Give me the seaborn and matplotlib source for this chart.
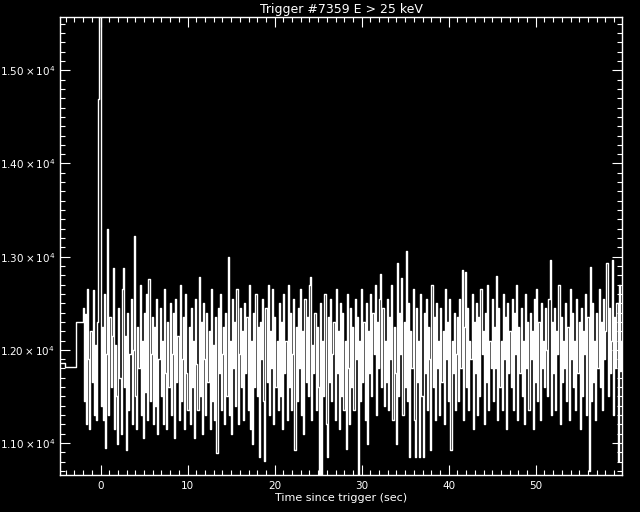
import numpy as np
import pandas as pd
import seaborn as sns
import matplotlib
matplotlib.use('Agg')
import matplotlib.pyplot as plt
from matplotlib.ticker import MultipleLocator, FuncFormatter

# pre-trigger coarse bins (left edges, sec) and rates
pre_t = [-4.55, -4.11, -2.76]
pre_rate = [11861, 11812, 12295]

# 0.128 s bins starting at -2.048 s
t0 = -2.048
dt = 0.128
t_end = 59.85
rate = [
    12450, 11450, 12380, 11200, 12650, 11900, 11150, 12200, 11650, 12640, 11300, 12050, 11250, 12300, 14690, 15900,
    11400, 12250, 11250, 12600, 10950, 11950, 13295, 11300, 12350, 11600, 12150, 12878, 11150, 12050, 11500, 10990,
    12450, 11700, 11100, 12650, 12878, 11600, 12150, 10930, 12400, 11350, 11950, 12550, 11200, 12000, 13220, 11500,
    11150, 12250, 11800, 12700, 11300, 12100, 11050, 12400, 11550, 12600, 11250, 12760, 11450, 11950, 12350, 11200,
    12250, 11400, 12550, 11100, 11900, 12450, 11500, 12100, 11200, 12650, 11750, 11150, 12300, 11600, 12500, 11300,
    11950, 12400, 11050, 12550, 11650, 12150, 11250, 12700, 11450, 11900, 12350, 11150, 12600, 11750, 11350, 12250,
    11200, 12450, 11600, 12100, 11050, 12550, 11850, 11350, 12780, 11500, 12300, 11100, 12500, 11900, 11300, 12400,
    11650, 12200, 11150, 12650, 11450, 12050, 11250, 12350, 10893, 12450, 11750, 12600, 11350, 11950, 12250, 11200,
    12400, 11500, 12996, 11300, 12100, 11100, 12550, 11800, 12300, 11400, 12650, 11200, 11950, 12450, 11600, 12200,
    11250, 12500, 11750, 12350, 11350, 12700, 11150, 12100, 10990, 12400, 11600, 12600, 11500, 12250, 10850, 12300,
    11900, 12550, 11450, 10810, 12450, 11650, 12700, 11300, 12200, 11800, 12650, 11200, 12350, 11600, 12100, 11350,
    12500, 11500, 12300, 11150, 12600, 11750, 12100, 11250, 12700, 11600, 12400, 11350, 11950, 12550, 10930, 12250,
    11450, 12450, 11800, 12650, 11300, 12200, 11100, 12550, 11650, 12350, 11500, 12700, 12780, 11250, 12050, 11750,
    12400, 11350, 12250, 11600, 10550, 12500, 10550, 12100, 11500, 12600, 11200, 10850, 12350, 11650, 12550, 11450,
    11950, 12300, 11250, 12650, 11750, 12200, 11150, 12500, 11500, 12400, 11350, 12100, 10936, 12600, 11800, 11200,
    12450, 11600, 12250, 11350, 12550, 11900, 12350, 10550, 12100, 11450, 12650, 11650, 12300, 11250, 12500, 10990,
    12200, 11750, 12600, 11500, 12400, 11950, 12700, 11300, 12300, 11800, 12550, 12813, 11600, 12450, 11400, 12100,
    11650, 12550, 11350, 12350, 11900, 12700, 11250, 12250, 11750, 10990, 12931, 11500, 12400, 11950, 12770, 11300,
    12300, 11600, 13060, 11450, 12500, 10850, 12200, 11800, 12650, 11250, 10850, 12450, 11650, 12100, 10850, 12600,
    11500, 10850, 12400, 11750, 12550, 11350, 12250, 11900, 10930, 12700, 11600, 12350, 11250, 12500, 11800, 12100,
    11300, 12450, 11650, 12200, 11200, 12650, 11900, 12300, 11450, 12550, 10930, 12100, 11750, 12400, 11350, 11950,
    12350, 11450, 12550, 11800, 12856, 11250, 12250, 12840, 11600, 12450, 11350, 12100, 11900, 12600, 11150, 12300,
    11750, 12500, 11300, 12350, 11500, 12650, 11950, 12200, 11200, 12400, 11650, 12700, 11350, 12100, 11800, 12550,
    11450, 12250, 11800, 12790, 11250, 12450, 11600, 12100, 11350, 12600, 11900, 12350, 11150, 12500, 11750, 12200,
    11600, 12550, 11350, 12400, 11950, 12700, 11250, 12250, 11750, 12450, 11500, 12100, 11200, 12600, 11800, 12300,
    11350, 12400, 11900, 12200, 11150, 12550, 11650, 12650, 11450, 12300, 11250, 12500, 11800, 12100, 11600, 12450,
    12000, 11500, 12550, 12964, 11300, 12300, 11750, 12450, 11350, 12200, 11950, 12700, 11200, 12350, 11650, 12100,
    11800, 12500, 11450, 12250, 11250, 12650, 11900, 12400, 11600, 12100, 11350, 12550, 11750, 12300, 11150, 12450,
    11500, 12200, 11950, 12600, 11300, 12350, 10700, 12888, 11450, 12500, 11650, 12100, 11250, 12400, 11800, 12650,
    11600, 12300, 11350, 12550, 11900, 12200, 12931, 11500, 12450, 11750, 12100, 12964, 11300, 12350, 11800, 12500,
    10810, 12700, 11770, 12100,
]

times = pre_t + list(t0 + dt * np.arange(len(rate))) + [t_end]
vals = pre_rate + rate + [rate[-1]]
df = pd.DataFrame({'t': times, 'rate': vals})

sns.set_style("ticks")
plt.rcParams['font.family'] = ['DejaVu Sans']
plt.rcParams['figure.facecolor'] = 'black'
plt.rcParams['axes.facecolor'] = 'black'

fig = plt.figure(figsize=(6.4, 5.12), dpi=100)
ax = fig.add_axes([0.0945, 0.0723, 0.8773, 0.8945])

sns.lineplot(data=df, x='t', y='rate', drawstyle='steps-post', color='white',
             lw=1.0, estimator=None, ax=ax)

ax.set_xlim(-4.6, 59.9)
ax.set_ylim(10657, 15572)

ax.xaxis.set_major_locator(MultipleLocator(10))
ax.xaxis.set_minor_locator(MultipleLocator(1))
ax.yaxis.set_major_locator(MultipleLocator(1000))
ax.yaxis.set_minor_locator(MultipleLocator(100))
ax.yaxis.set_major_formatter(FuncFormatter(lambda v, p: r'$%.2f\times10^{4}$' % (v / 1e4)))

for s in ax.spines.values():
    s.set_color('white')
    s.set_linewidth(1.0)
ax.tick_params(which='both', direction='in', top=True, right=True, colors='white',
               width=0.8, labelsize=7.5, pad=4)
ax.tick_params(which='major', length=7)
ax.tick_params(which='minor', length=3.5)

ax.set_title('Trigger #7359 E > 25 keV', color='white', fontsize=9, pad=3)
ax.set_xlabel('Time since trigger (sec)', color='white', fontsize=8, labelpad=2)
# the y label sits mostly off the left edge, as in the original
ax.set_ylabel('Rate (counts s$^{-1}$)', color='white', fontsize=8)
ax.yaxis.set_label_coords(-0.115, 0.5)

fig.savefig('out.png', dpi=100, facecolor='black')
